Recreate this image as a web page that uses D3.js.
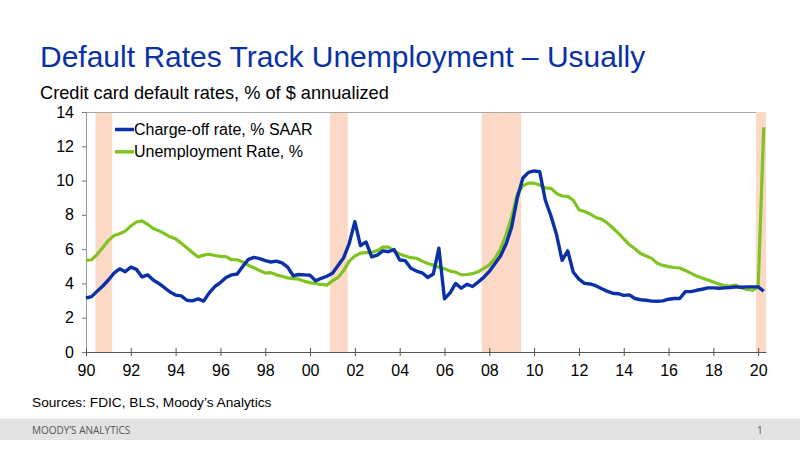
<!DOCTYPE html>
<html><head><meta charset="utf-8">
<script src="https://cdn.jsdelivr.net/npm/d3@7/dist/d3.min.js"></script>
<style>body{margin:0;background:#fff}svg{display:block;font-family:Arial,"Liberation Sans",sans-serif}</style>
</head><body><svg id="c" width="800" height="450"></svg>
<script>
// Quarterly data, 1990Q1 .. 2020Q2
const startYear = 1990;
const chargeOff = [
3.15,3.23,3.55,3.85, 4.2,4.6,4.85,4.68, 4.95,4.82,4.38,4.5, 4.2,4.0,3.75,3.5,
3.32,3.27,3.02,2.98, 3.1,2.97,3.45,3.82, 4.05,4.35,4.5,4.55, 5.0,5.4,5.52,5.45,
5.33,5.25,5.3,5.2, 4.95,4.45,4.52,4.5, 4.48,4.15,4.3,4.42, 4.6,5.05,5.5,6.34,
7.6,6.2,6.42,5.55, 5.65,5.9,5.85,5.98, 5.37,5.33,4.88,4.72, 4.62,4.35,4.55,6.05,
3.1,3.45,4.0,3.72, 3.95,3.82,4.08,4.35, 4.7,5.15,5.6,6.3, 7.3,9.0,10.15,10.48,
10.56,10.52,8.85,7.95, 6.85,5.35,5.9,4.65, 4.25,4.0,3.97,3.87, 3.7,3.55,3.43,3.4,
3.3,3.33,3.12,3.05, 3.02,2.97,2.96,2.98, 3.08,3.12,3.12,3.52, 3.52,3.6,3.66,3.74,
3.74,3.72,3.74,3.76, 3.8,3.78,3.8,3.8, 3.8,3.55];
const unemployment = [
5.35,5.38,5.7,6.1, 6.5,6.8,6.9,7.05, 7.35,7.58,7.65,7.45, 7.2,7.08,6.9,6.72,
6.6,6.35,6.08,5.8, 5.55,5.65,5.7,5.63, 5.58,5.56,5.38,5.38, 5.25,5.05,4.92,4.75,
4.6,4.63,4.5,4.42, 4.32,4.28,4.25,4.12, 4.05,3.98,3.95,3.9, 4.15,4.35,4.75,5.3,
5.6,5.77,5.8,5.8, 5.92,6.12,6.12,5.88, 5.72,5.6,5.5,5.47, 5.3,5.16,5.07,4.95,
4.85,4.72,4.66,4.5, 4.52,4.57,4.68,4.88, 5.08,5.45,6.0,6.85, 7.9,9.2,9.7,9.85,
9.85,9.74,9.57,9.55, 9.25,9.1,9.08,8.85, 8.3,8.2,8.05,7.85, 7.75,7.55,7.25,6.95,
6.6,6.27,6.02,5.75, 5.6,5.46,5.17,5.05, 4.98,4.93,4.9,4.75, 4.6,4.43,4.32,4.2,
4.08,3.96,3.88,3.85, 3.9,3.75,3.65,3.6, 3.78,13.1];
const recessionStart = [1990.42, 2000.89, 2007.66, 2019.9];
const recessionEnd   = [1991.17, 2001.68, 2009.42, 2020.35];
const xTickValues = [1990,1992,1994,1996,1998,2000,2002,2004,2006,2008,2010,2012,2014,2016,2018,2020];
const yTickValues = [0,2,4,6,8,10,12,14];
const seriesNames = ["Charge-off rate, % SAAR","Unemployment Rate, %"];
const seriesColors = ["#0a31a6","#7fc41f"];

const svg = d3.select("#c");
const L = 86, R = 766, T = 112, B = 352;
const x = d3.scaleLinear().domain([1990, 2020.35]).range([L, R]);
const y = d3.scaleLinear().domain([0, 14]).range([B, T]);

// title
svg.append("text").attr("x",40).attr("y",67).attr("fill","#0a31a6")
  .attr("font-size",30).text("Default Rates Track Unemployment \u2013 Usually");
svg.append("text").attr("x",40).attr("y",99).attr("fill","#000")
  .attr("font-size",18.2).text("Credit card default rates, % of $ annualized");

// recessions
svg.append("g").selectAll("rect").data(recessionStart).join("rect")
  .attr("x", d => x(d)).attr("y", T)
  .attr("width", (d,i) => x(recessionEnd[i]) - x(d)).attr("height", B - T)
  .attr("fill", "#fcd9c7");

// frame top
svg.append("line").attr("x1",L).attr("x2",x(recessionStart[3])).attr("y1",T+0.5).attr("y2",T+0.5).attr("stroke","#a6a6a6");

// y axis
const yAxis = svg.append("g").attr("transform",`translate(${L},0)`)
  .call(d3.axisLeft(y).tickValues(yTickValues).tickSize(4).tickPadding(8).tickFormat(d3.format("d")));
yAxis.select(".domain").attr("stroke","#999");
yAxis.selectAll(".tick line").attr("stroke","#777");
yAxis.selectAll("text").attr("font-size",16).attr("fill","#000").attr("font-family","Arial,'Liberation Sans',sans-serif");

// x axis
const xAxis = svg.append("g").attr("transform",`translate(0,${B})`)
  .call(d3.axisBottom(x).tickValues(xTickValues).tickSizeInner(4).tickSizeOuter(0).tickPadding(9)
    .tickFormat(d => String(d % 100).padStart(2,"0")));
xAxis.select(".domain").attr("stroke","#555");
xAxis.selectAll(".tick line").attr("stroke","#555").attr("y1",-4);
xAxis.selectAll("text").attr("font-size",16).attr("fill","#000").attr("font-family","Arial,'Liberation Sans',sans-serif");

// lines
const line = d3.line().x((d,i) => x(startYear + i*0.25)).y(d => y(d));
svg.append("path").datum(unemployment).attr("d", line).attr("fill","none")
  .attr("stroke", seriesColors[1]).attr("stroke-width",3.2).attr("stroke-linejoin","round");
svg.append("path").datum(chargeOff).attr("d", line).attr("fill","none")
  .attr("stroke", seriesColors[0]).attr("stroke-width",3.4).attr("stroke-linejoin","round");

// legend
const lg = svg.append("g");
seriesNames.forEach((n,i) => {
  const yy = 129.5 + i*22.3;
  lg.append("line").attr("x1",115).attr("x2",134).attr("y1",yy).attr("y2",yy)
    .attr("stroke",seriesColors[i]).attr("stroke-width",3.5);
  lg.append("text").attr("x",134).attr("y",yy+5.5).attr("font-size",16).attr("fill","#000").text(n);
});

// sources + footer
svg.append("text").attr("x",32).attr("y",406.5).attr("font-size",13.7).attr("fill","#000")
  .text("Sources: FDIC, BLS, Moody\u2019s Analytics");
svg.append("rect").attr("x",0).attr("y",418.5).attr("width",800).attr("height",21.5).attr("fill","#e3e3e3");
svg.append("text").attr("x",32).attr("y",433.5).attr("font-size",10).attr("fill","#555")
  .attr("font-family","'Open Sans',sans-serif").text("MOODY\u2019S ANALYTICS");
svg.append("text").attr("x",757).attr("y",433.5).attr("font-size",10).attr("fill","#555")
  .attr("font-family","'Open Sans',sans-serif").text("1");
</script></body></html>
